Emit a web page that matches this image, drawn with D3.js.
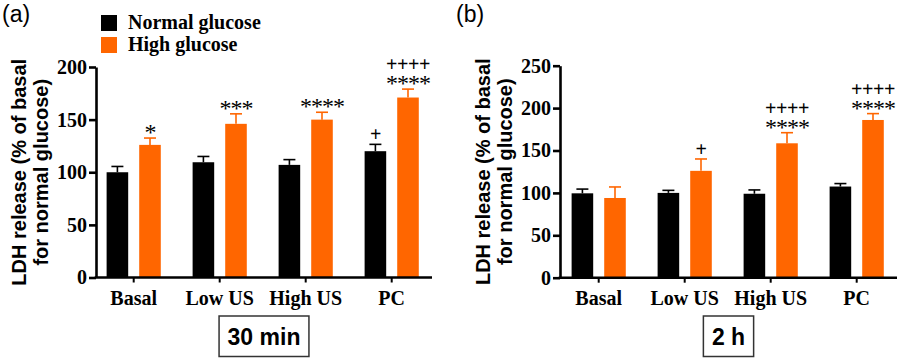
<!DOCTYPE html>
<html><head><meta charset="utf-8">
<script src="https://cdn.jsdelivr.net/npm/d3@7/dist/d3.min.js"></script>
<style>body{margin:0;background:#fff}svg{display:block}</style>
</head><body><svg id="c" width="900" height="360"></svg>
<script>
const categories = ["Basal", "Low US", "High US", "PC"];
const series = ["Normal glucose", "High glucose"];
const colors = ["#000000", "#FF6600"];

// Panel (a) 30 min
const aNormal = [100, 109.5, 107, 120];
const aNormalErr = [5.5, 5.5, 5, 6.5];
const aHigh = [126, 146, 150, 171];
const aHighErr = [6.5, 9.5, 7, 8];
const aNormalStars = ["", "", "", ""];
const aNormalPlus = ["", "", "", "+"];
const aHighStars = ["*", "***", "****", "****"];
const aHighPlus = ["", "", "", "++++"];
const aTicks = [0, 50, 100, 150, 200];

// Panel (b) 2 h
const bNormal = [99.5, 100, 99, 107.5];
const bNormalErr = [5, 3, 4.5, 3.5];
const bHigh = [94, 126, 158.5, 186];
const bHighErr = [13, 14, 12.5, 7.5];
const bNormalStars = ["", "", "", ""];
const bNormalPlus = ["", "", "", ""];
const bHighStars = ["", "", "****", "****"];
const bHighPlus = ["", "+", "++++", "++++"];
const bTicks = [0, 50, 100, 150, 200, 250];

const yLabel1 = "LDH release (% of basal";
const yLabel2 = "for normal glucose)";

const svg = d3.select("#c");
const serif = "'Liberation Serif','Times New Roman',serif";
const sans = "'Liberation Sans',Arial,sans-serif";

function drawPanel(o) {
  const g = svg.append("g");
  const y = d3.scaleLinear().domain([0, o.ymax]).range([o.y0, o.y1]);
  const x = d3.scaleBand().domain(categories).range(o.xr).paddingInner(0.37).paddingOuter(0.185);
  const xs = d3.scaleBand().domain(series).range([0, x.bandwidth()]).paddingInner(0.338);
  const vals = [o.normal, o.high], errs = [o.normalErr, o.highErr];
  const stars = [o.normalStars, o.high_stars], plus = [o.normalPlus, o.highPlus];

  series.forEach((s, si) => {
    const gg = g.append("g");
    categories.forEach((c, ci) => {
      const bx = x(c) + xs(s), bw = xs.bandwidth();
      const v = vals[si][ci], e = errs[si][ci];
      gg.append("rect").attr("x", bx).attr("y", y(v)).attr("width", bw).attr("height", y(0) - y(v)).attr("fill", colors[si]);
      const cx = bx + bw / 2;
      gg.append("line").attr("x1", cx).attr("x2", cx).attr("y1", y(v)).attr("y2", y(v + e)).attr("stroke", colors[si]).attr("stroke-width", 1.6);
      gg.append("line").attr("x1", cx - 6).attr("x2", cx + 6).attr("y1", y(v + e)).attr("y2", y(v + e)).attr("stroke", colors[si]).attr("stroke-width", 1.6);
      const top = y(v + e);
      const st = stars[si][ci], pl = plus[si][ci];
      if (st || pl) {
        const t = g.append("text").attr("text-anchor", "middle").attr("fill", "#000").attr("font-family", serif);
        if (pl) {
          const c0 = st ? top - 24 : top - 9;
          t.append("tspan").attr("x", cx).attr("y", c0 + 6).attr("font-weight", "bold").attr("font-size", 20)
            .attr("letter-spacing", -0.4).text(pl);
        }
        if (st) {
          t.append("tspan").attr("x", cx).attr("y", top - 10 + 12).attr("font-size", 24)
            .attr("letter-spacing", -1).text(st);
        }
      }
    });
  });

  const ya = g.append("g").attr("transform", `translate(${o.axisX},0)`)
    .call(d3.axisLeft(y).tickValues(o.ticks).tickSize(7).tickPadding(2).tickSizeOuter(0));
  ya.select(".domain").attr("stroke-width", 2.6);
  ya.selectAll(".tick line").attr("stroke-width", 2.6);
  ya.selectAll(".tick text").attr("font-family", serif).attr("font-weight", "bold").attr("font-size", 20).attr("fill", "#000");

  const xa = g.append("g").attr("transform", `translate(0,${o.y0})`)
    .call(d3.axisBottom(x).tickSize(5).tickPadding(8));
  xa.select(".domain").remove();
  xa.selectAll(".tick line").attr("stroke-width", 2);
  xa.selectAll(".tick text").attr("font-family", serif).attr("font-weight", "bold").attr("font-size", 20).attr("fill", "#000");
  g.append("line").attr("x1", o.axisX - 1.3).attr("x2", o.xEnd).attr("y1", o.y0).attr("y2", o.y0)
    .attr("stroke", "#000").attr("stroke-width", 2.6);

  const cy = (o.y0 + o.y1) / 2;
  [[yLabel1, o.axisX - 70], [yLabel2, o.axisX - 48]].forEach(([t, bx]) => {
    g.append("text").attr("transform", `translate(${bx},${cy}) rotate(-90)`).attr("text-anchor", "middle")
      .attr("font-family", sans).attr("font-weight", "bold").attr("font-size", 20).attr("fill", "#000").text(t);
  });

  g.append("text").attr("x", o.letterX).attr("y", 22).attr("font-family", sans).attr("font-size", 23).attr("fill", "#000").text(o.letter);

  const midX = (o.axisX + o.xEnd) / 2;
  const tt = g.append("text").attr("x", midX).attr("y", 345).attr("text-anchor", "middle")
    .attr("font-family", sans).attr("font-weight", "bold").attr("font-size", 23).attr("fill", "#000").text(o.time);
  const bb = tt.node().getBBox();
  g.insert("rect", "text").attr("x", bb.x - 8.5).attr("y", 316).attr("width", bb.width + 17).attr("height", 40.5)
    .attr("fill", "none").attr("stroke", "#333").attr("stroke-width", 1.5);
}

drawPanel({
  normal: aNormal, normalErr: aNormalErr, high: aHigh, highErr: aHighErr,
  normalStars: aNormalStars, normalPlus: aNormalPlus, high_stars: aHighStars, highPlus: aHighPlus,
  ticks: aTicks, ymax: 200, y0: 277.5, y1: 67, xr: [90.7, 434.7], axisX: 96, xEnd: 432,
  letter: "(a)", letterX: 2, time: "30 min"
});
drawPanel({
  normal: bNormal, normalErr: bNormalErr, high: bHigh, highErr: bHighErr,
  normalStars: bNormalStars, normalPlus: bNormalPlus, high_stars: bHighStars, highPlus: bHighPlus,
  ticks: bTicks, ymax: 250, y0: 277.7, y1: 65.7, xr: [555.7, 899.7], axisX: 560, xEnd: 897,
  letter: "(b)", letterX: 456, time: "2 h"
});

const leg = svg.append("g");
series.forEach((s, i) => {
  leg.append("rect").attr("x", 101).attr("y", 15 + i * 22).attr("width", 16).attr("height", 16).attr("fill", colors[i]);
  leg.append("text").attr("x", 128).attr("y", 29 + i * 22).attr("font-family", serif).attr("font-weight", "bold")
    .attr("font-size", 20).attr("fill", "#000").text(s);
});
</script></body></html>
